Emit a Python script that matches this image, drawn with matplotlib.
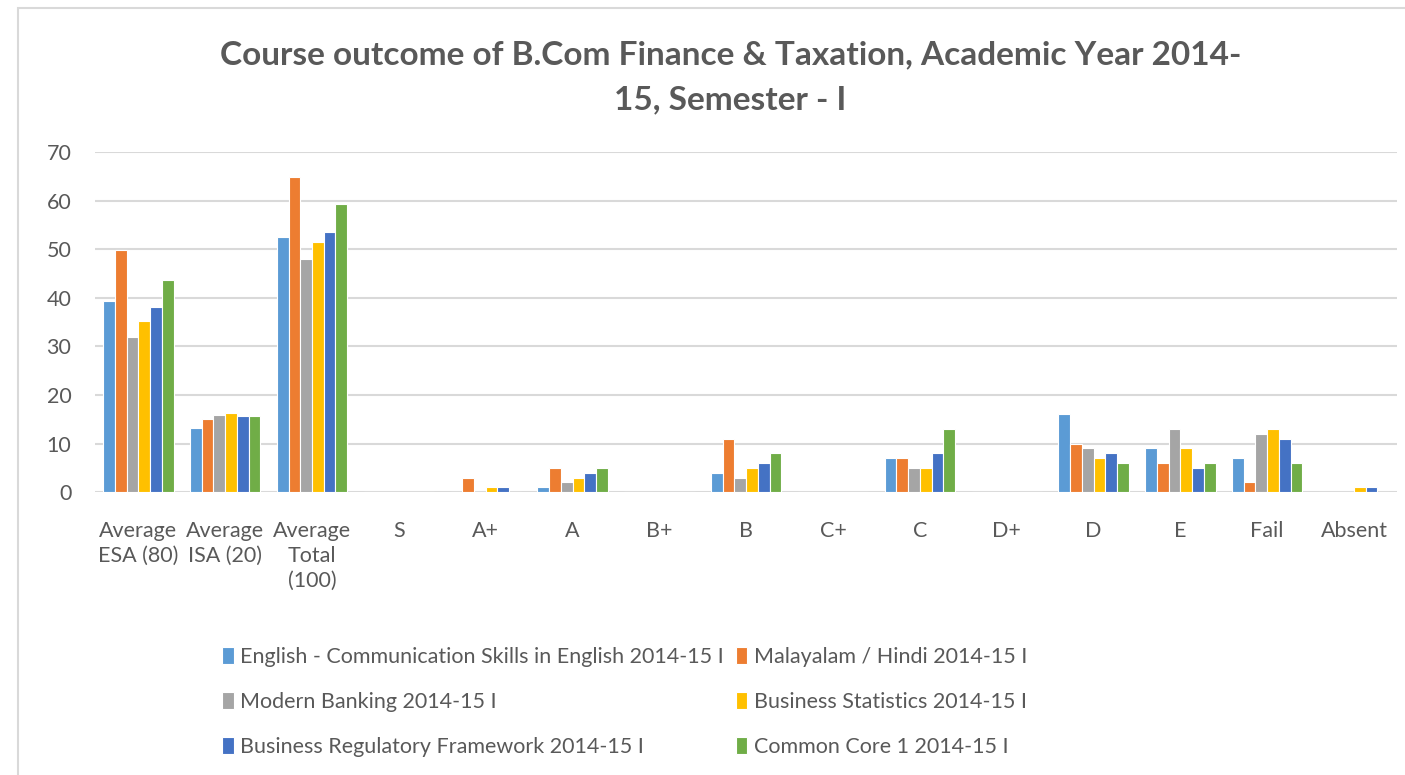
import matplotlib.pyplot as plt
import numpy as np
from matplotlib.patches import Rectangle

plt.rcParams['font.family'] = ['Lato', 'DejaVu Sans']

# categories on the x axis
categories = ['Average\nESA (80)', 'Average\nISA (20)', 'Average\nTotal\n(100)',
              'S', 'A+', 'A', 'B+', 'B', 'C+', 'C', 'D+', 'D', 'E', 'Fail', 'Absent']

# one series per course
english = [39.3, 13.1, 52.5, 0, 0, 1, 0, 4, 0, 7, 0, 16, 9, 7, 0]
malayalam = [49.8, 15.0, 64.8, 0, 3, 5, 0, 11, 0, 7, 0, 10, 6, 2, 0]
banking = [31.9, 15.9, 47.9, 0, 0, 2, 0, 3, 0, 5, 0, 9, 13, 12, 0]
statistics = [35.3, 16.2, 51.4, 0, 1, 3, 0, 5, 0, 5, 0, 7, 9, 13, 1]
regulatory = [38.0, 15.7, 53.6, 0, 1, 4, 0, 6, 0, 8, 0, 8, 5, 11, 1]
common_core = [43.6, 15.6, 59.3, 0, 0, 5, 0, 8, 0, 13, 0, 6, 6, 6, 0]

series_names = ['English - Communication Skills in English 2014-15 I',
                'Malayalam / Hindi 2014-15 I',
                'Modern Banking 2014-15 I',
                'Business Statistics 2014-15 I',
                'Business Regulatory Framework 2014-15 I',
                'Common Core 1 2014-15 I']
series = [english, malayalam, banking, statistics, regulatory, common_core]
colors = ['#5B9BD5', '#ED7D31', '#A5A5A5', '#FFC000', '#4472C4', '#70AD47']

text_color = '#595959'

fig = plt.figure(figsize=(14.05, 7.75), dpi=100)
ax = fig.add_axes([0.0676, 0.365, 0.927, 0.439])

x = np.arange(len(categories))
width = 0.135
bars = []
for i, (vals, name, c) in enumerate(zip(series, series_names, colors)):
    b = ax.bar(x + (i - 2.5) * width, vals, width, color=c, edgecolor='white',
               linewidth=0.8, label=name, zorder=3)
    bars.append(b)

ax.set_xlim(-0.5, len(categories) - 0.5)
ax.set_ylim(0, 70)
ax.set_yticks(range(0, 71, 10))
ax.set_xticks(x)
ax.set_xticklabels(categories, fontsize=15.5, color=text_color, linespacing=1.3)
ax.tick_params(axis='y', labelsize=15.5, colors=text_color, length=0, pad=17)
ax.tick_params(axis='x', length=0, pad=21)
ax.grid(axis='y', color='#D9D9D9', linewidth=1.5, zorder=0)
for s in ax.spines.values():
    s.set_visible(False)

fig.suptitle('Course outcome of B.Com Finance & Taxation, Academic Year 2014-\n15, Semester - I',
             x=0.52, y=0.948, fontsize=24, fontweight='bold', color=text_color,
             linespacing=1.65)

# legend: column-major order in matplotlib, so reorder for row-major look
order = [0, 2, 4, 1, 3, 5]
leg = fig.legend([bars[i] for i in order], [series_names[i] for i in order],
                 ncol=2, loc='upper left', bbox_to_anchor=(0.144, 0.19),
                 frameon=False, fontsize=15.5, handlelength=0.55, handleheight=0.85,
                 handletextpad=0.3, columnspacing=0.55, labelspacing=1.15)
for t in leg.get_texts():
    t.set_color(text_color)

# outer chart border
fig.patches.append(Rectangle((0.013, -0.01), 0.99, 1.0, transform=fig.transFigure,
                             fill=False, edgecolor='#D9D9D9', linewidth=1.5))

plt.savefig('out.png', dpi=100)
